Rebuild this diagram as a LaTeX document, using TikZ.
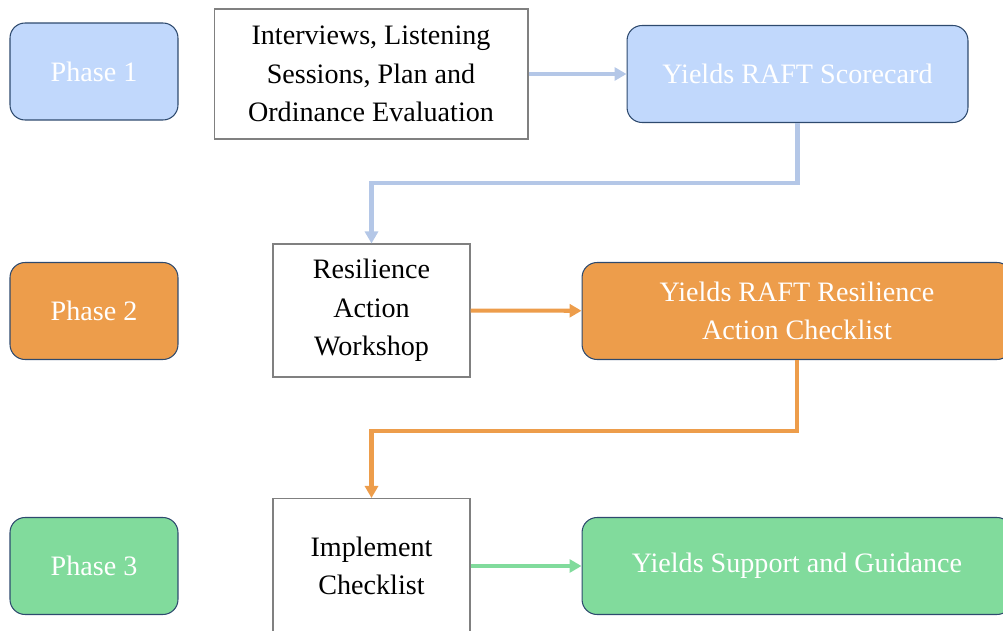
\documentclass[tikz,border=0pt]{standalone}
\usepackage{fontspec}
\setmainfont{Liberation Serif}
\usetikzlibrary{arrows.meta, positioning}
\definecolor{raftblue}{HTML}{C1D8FC}
\definecolor{raftline}{HTML}{B4C7E7}
\definecolor{raftorange}{HTML}{ED9D4B}
\definecolor{raftgreen}{HTML}{81DB9C}
\definecolor{raftedge}{HTML}{2E4A6E}

\begin{document}
\begin{tikzpicture}[
    x=0.02cm, y=-0.02cm,
    every node/.style={font=\fontsize{16}{22}\selectfont, align=center},
    phase/.style={rectangle, rounded corners=0.3cm, draw=raftedge, semithick, text=white, minimum width=3.36cm, minimum height=1.94cm},
    task/.style={rectangle, draw=gray, semithick, fill=white, text=black, minimum width=3.94cm, minimum height=2.66cm},
    yield/.style={rectangle, rounded corners=0.3cm, draw=raftedge, semithick, text=white, minimum height=1.94cm},
    arrow/.style={-{Triangle[length=0.24cm, width=0.26cm]}, line width=2.3pt}
]
\useasboundingbox (0,0) rectangle (1003,631);
\clip (0,0) rectangle (1003,631);

% Phase 1
\node[phase, fill=raftblue] (phaseone) at (94,71.5) {Phase 1};
\node[task, minimum width=6.28cm, minimum height=2.6cm] (interviews) at (371,74) {Interviews, Listening\\ Sessions, Plan and\\ Ordinance Evaluation};
\node[yield, fill=raftblue, minimum width=6.82cm] (scorecard) at (797.5,74) {Yields RAFT Scorecard};

% Phase 2
\node[phase, fill=raftorange] (phasetwo) at (94,311) {Phase 2};
\node[task] (workshop) at (371.5,310.5) {Resilience\\ Action\\ Workshop};
\node[yield, fill=raftorange, minimum width=8.6cm] (checklist) at (797,311) {Yields RAFT Resilience\\ Action Checklist};

% Phase 3
\node[phase, fill=raftgreen] (phasethree) at (94,566) {Phase 3};
\node[task, minimum height=2.7cm] (implement) at (371.5,566) {Implement\\ Checklist};
\node[yield, fill=raftgreen, minimum width=8.6cm] (guidance) at (797,566) {Yields Support and Guidance};

% Arrows
\draw[arrow, raftline] (interviews) -- (scorecard);
\draw[arrow, raftline] (scorecard.south) -- ++(0,60) -| (workshop.north);
\draw[arrow, raftorange] (workshop) -- (checklist);
\draw[arrow, raftorange] (checklist.south) -- ++(0,71) -| (implement.north);
\draw[arrow, raftgreen] (implement) -- (guidance);

\end{tikzpicture}
\end{document}
